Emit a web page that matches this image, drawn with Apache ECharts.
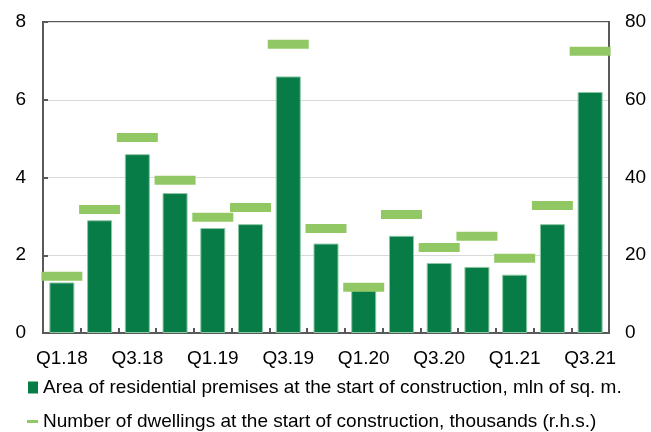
<!DOCTYPE html>
<html><head><meta charset="utf-8">
<script src="https://cdn.jsdelivr.net/npm/echarts@6/dist/echarts.min.js"></script>
<style>html,body{margin:0;padding:0;background:#fff}#c{width:651px;height:432px}</style>
</head><body><div id="c"></div>
<script>
var categories = ['Q1.18','Q2.18','Q3.18','Q4.18','Q1.19','Q2.19','Q3.19','Q4.19','Q1.20','Q2.20','Q3.20','Q4.20','Q1.21','Q2.21','Q3.21'];
var areaValues = [1.3, 2.9, 4.6, 3.6, 2.7, 2.8, 6.6, 2.3, 1.1, 2.5, 1.8, 1.7, 1.5, 2.8, 6.2];
var dwellingValues = [14.6, 31.8, 50.3, 39.3, 29.8, 32.3, 74.3, 26.9, 11.8, 30.5, 22.0, 24.9, 19.2, 32.8, 72.5];
var leftTicks = [0, 2, 4, 6, 8];
var rightTicks = [0, 20, 40, 60, 80];
var areaName = 'Area of residential premises at the start of construction, mln of sq. m.';
var dwellName = 'Number of dwellings at the start of construction, thousands (r.h.s.)';

var font = 'Liberation Sans, Arial, sans-serif';
var fs = 19;
var chart = echarts.init(document.getElementById('c'), null, {renderer: 'canvas'});
chart.setOption({
  animation: false,
  grid: {left: 43, right: 42, top: 22, bottom: 99, show: true, borderColor: '#595959', borderWidth: 2, containLabel: false},
  legend: [
    {data: [{name: areaName, icon: 'rect', itemStyle: {borderWidth: 0, color: '#077c46'}}], orient: 'vertical', left: 23, top: 373, itemWidth: 10, itemHeight: 12, itemGap: 5,
     textStyle: {fontFamily: font, fontSize: fs, color: '#000'}, selectedMode: false},
    {data: [{name: dwellName, icon: 'rect'}], orient: 'vertical', left: 22, top: 407, itemWidth: 11, itemHeight: 3, itemGap: 5,
     textStyle: {fontFamily: font, fontSize: fs, color: '#000'}, selectedMode: false}
  ],
  xAxis: {
    type: 'category', data: categories,
    axisLine: {show: true, lineStyle: {color: '#595959', width: 2}},
    axisTick: {show: true, inside: true, length: 5, interval: 0, lineStyle: {color: '#595959', width: 2}},
    axisLabel: {interval: 1, fontFamily: font, fontSize: fs, color: '#000', margin: 16}
  },
  yAxis: [
    {type: 'value', min: leftTicks[0], max: leftTicks[leftTicks.length-1], interval: 2,
     axisLine: {show: true, lineStyle: {color: '#595959', width: 2}},
     axisTick: {show: true, inside: true, length: 5, lineStyle: {color: '#595959', width: 2}},
     splitLine: {show: true, lineStyle: {color: '#d9d9d9', width: 1}},
     axisLabel: {fontFamily: font, fontSize: fs, color: '#000', margin: 17}},
    {type: 'value', min: rightTicks[0], max: rightTicks[rightTicks.length-1], interval: 20, position: 'right',
     axisLine: {show: true, lineStyle: {color: '#595959', width: 2}},
     axisTick: {show: false},
     splitLine: {show: false},
     axisLabel: {fontFamily: font, fontSize: fs, color: '#000', margin: 16}}
  ],
  series: [
    {name: areaName, type: 'bar', data: areaValues, yAxisIndex: 0, barWidth: 25,
     itemStyle: {color: '#077c46', borderColor: '#8cc7a4', borderWidth: 1}, z: 2},
    {name: dwellName, type: 'scatter', data: dwellingValues, yAxisIndex: 1,
     symbol: 'rect', symbolSize: [41, 9], itemStyle: {color: '#92c864', opacity: 1}, z: 3}
  ]
});
</script></body></html>
